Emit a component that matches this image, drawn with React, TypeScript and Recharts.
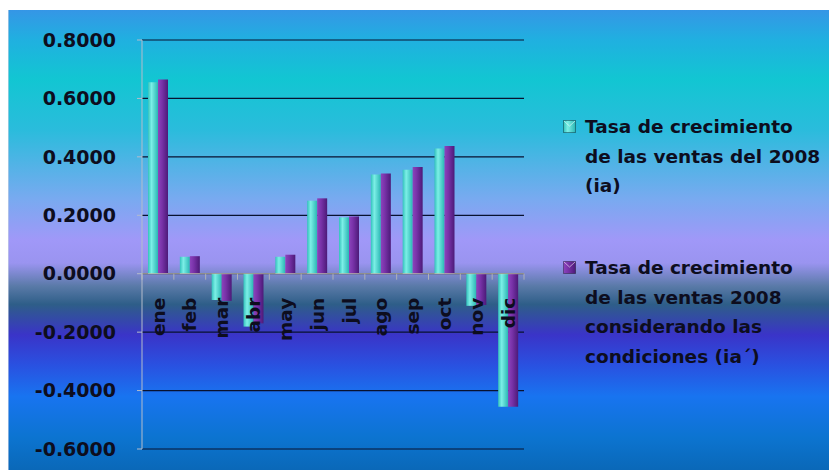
import React from "react";
import {
    BarChart,
    Bar,
    XAxis,
    YAxis,
    CartesianGrid,
    ReferenceLine,
    Legend,
} from "recharts";

const MESES = ["ene", "feb", "mar", "abr", "may", "jun", "jul", "ago", "sep", "oct", "nov", "dic"];
const TASA_IA = [0.655, 0.058, -0.09, -0.181, 0.058, 0.25, 0.193, 0.34, 0.356, 0.429, -0.11, -0.455];
const TASA_IA_COND = [0.665, 0.06, -0.093, -0.17, 0.065, 0.258, 0.196, 0.343, 0.365, 0.437, -0.107, -0.455];
const Y_TICKS = [-0.6, -0.4, -0.2, 0, 0.2, 0.4, 0.6, 0.8];

const LEYENDA_IA = ["Tasa de crecimiento", "de las ventas del 2008", "(ia)"];
const LEYENDA_IA_COND = ["Tasa de crecimiento", "de las ventas 2008", "considerando las", "condiciones (ia´)"];

const data = MESES.map((mes, i) => ({ mes, ia: TASA_IA[i], iaCond: TASA_IA_COND[i] }));

const WIDTH = 829;
const HEIGHT = 460;
const MARGIN = { top: 30, right: 313, bottom: 20, left: 0 };
const Y_AXIS_W = 134;
const X_AXIS_H = 1;
const PLOT_W = WIDTH - MARGIN.right - MARGIN.left - Y_AXIS_W;
const PLOT_H = HEIGHT - MARGIN.top - MARGIN.bottom - X_AXIS_H;
const Y_MIN = -0.6;
const Y_MAX = 0.8;
const ZERO_Y = MARGIN.top + (PLOT_H * Y_MAX) / (Y_MAX - Y_MIN);
const BAND = PLOT_W / MESES.length;

const FONT = "'DejaVu Sans', sans-serif";
const TEXT = "#0d0d1e";

// month names sit just under the zero line, rotated, with small boundary ticks
const MesTick = (props: any) => {
    const { x, index, payload } = props;
    const left = x - BAND / 2;
    const ly = ZERO_Y + 24;
    return (
        <g>
            <line x1={left} x2={left} y1={ZERO_Y} y2={ZERO_Y + 6} stroke="#c9c6b4" strokeOpacity={0.7} />
            {index === MESES.length - 1 && (
                <line x1={left + BAND} x2={left + BAND} y1={ZERO_Y} y2={ZERO_Y + 6} stroke="#c9c6b4" strokeOpacity={0.7} />
            )}
            <text
                x={x}
                y={ly}
                dy="0.36em"
                transform={`rotate(-90, ${x}, ${ly})`}
                textAnchor="end"
                fontFamily={FONT}
                fontWeight="bold"
                fontSize={18.5}
                fill={TEXT}>
                {payload.value}
            </text>
        </g>
    );
};

const Marcador = ({ id }: { id: string }) => (
    <svg width={13} height={13} style={{ position: "absolute", left: 2, top: 8 }}>
        <rect x={0.5} y={0.5} width={12} height={12} fill={`url(#${id})`} stroke="rgba(0,0,0,0.35)" />
        <path d="M1 1 L6.5 6 L12 1" fill="none" stroke="rgba(255,255,255,0.55)" />
    </svg>
);

const Leyenda = () => (
    <div style={{ fontFamily: FONT, fontWeight: "bold", fontSize: 18.5, lineHeight: "29.5px", color: TEXT }}>
        <div style={{ position: "relative", paddingLeft: 24 }}>
            <Marcador id="gradIa" />
            {LEYENDA_IA.map((l) => (
                <div key={l} style={{ whiteSpace: "nowrap" }}>{l}</div>
            ))}
        </div>
        <div style={{ position: "relative", paddingLeft: 24, marginTop: 52.5 }}>
            <Marcador id="gradIaCond" />
            {LEYENDA_IA_COND.map((l) => (
                <div key={l} style={{ whiteSpace: "nowrap" }}>{l}</div>
            ))}
        </div>
    </div>
);

export default function App() {
    return (
        <div
            style={{
                width: WIDTH,
                height: HEIGHT,
                marginTop: 2,
                boxShadow: "inset 1px 0 0 rgba(200,210,230,0.6)",
                background:
                    "linear-gradient(180deg, #3596e6 0%, #20b0e0 6.5%, #12c6d2 15%, #2abcdc 26%, #78aaf0 41%, #a098f8 50%, #9a94f0 55%, #5a7aa8 60%, #2e5e88 64%, #3a34c8 70.6%, #2a50e0 77%, #1874f0 84%, #0c74d0 93%, #0a68b8 100%)",
            }}>
            <BarChart width={WIDTH} height={HEIGHT} data={data} margin={MARGIN} barSize={10} barGap={0}>
                <defs>
                    <linearGradient id="gradIa" x1="0" y1="0" x2="1" y2="0">
                        <stop offset="0%" stopColor="#33c2bc" />
                        <stop offset="35%" stopColor="#7cefe6" />
                        <stop offset="100%" stopColor="#2ab6b4" />
                    </linearGradient>
                    <linearGradient id="gradIaCond" x1="0" y1="0" x2="1" y2="0">
                        <stop offset="0%" stopColor="#8c44bc" />
                        <stop offset="40%" stopColor="#7832a8" />
                        <stop offset="100%" stopColor="#4c1a78" />
                    </linearGradient>
                </defs>
                <CartesianGrid horizontal vertical={false} stroke="#081230" strokeWidth={1.2} />
                <XAxis
                    dataKey="mes"
                    height={X_AXIS_H}
                    axisLine={false}
                    tickLine={false}
                    interval={0}
                    tick={<MesTick />}
                />
                <YAxis
                    width={Y_AXIS_W}
                    domain={[Y_MIN, Y_MAX]}
                    ticks={Y_TICKS}
                    tickFormatter={(v: number) => v.toFixed(4)}
                    axisLine={{ stroke: "#b4bccb" }}
                    tickLine={{ stroke: "#b4bccb" }}
                    tickSize={5}
                    tickMargin={21}
                    tick={{ fontFamily: FONT, fontWeight: "bold", fontSize: 19, fill: TEXT }}
                />
                <ReferenceLine y={0} stroke="#cfcab6" strokeOpacity={0.85} />
                <Bar dataKey="ia" name="Tasa de crecimiento de las ventas del 2008 (ia)" fill="url(#gradIa)" isAnimationActive={false} />
                <Bar
                    dataKey="iaCond"
                    name="Tasa de crecimiento de las ventas 2008 considerando las condiciones (ia´)"
                    fill="url(#gradIaCond)"
                    isAnimationActive={false}
                />
                <Legend
                    layout="horizontal"
                    verticalAlign="middle"
                    align="center"
                    wrapperStyle={{ left: 553, top: 102, width: 276 }}
                    content={() => <Leyenda />}
                />
            </BarChart>
        </div>
    );
}
